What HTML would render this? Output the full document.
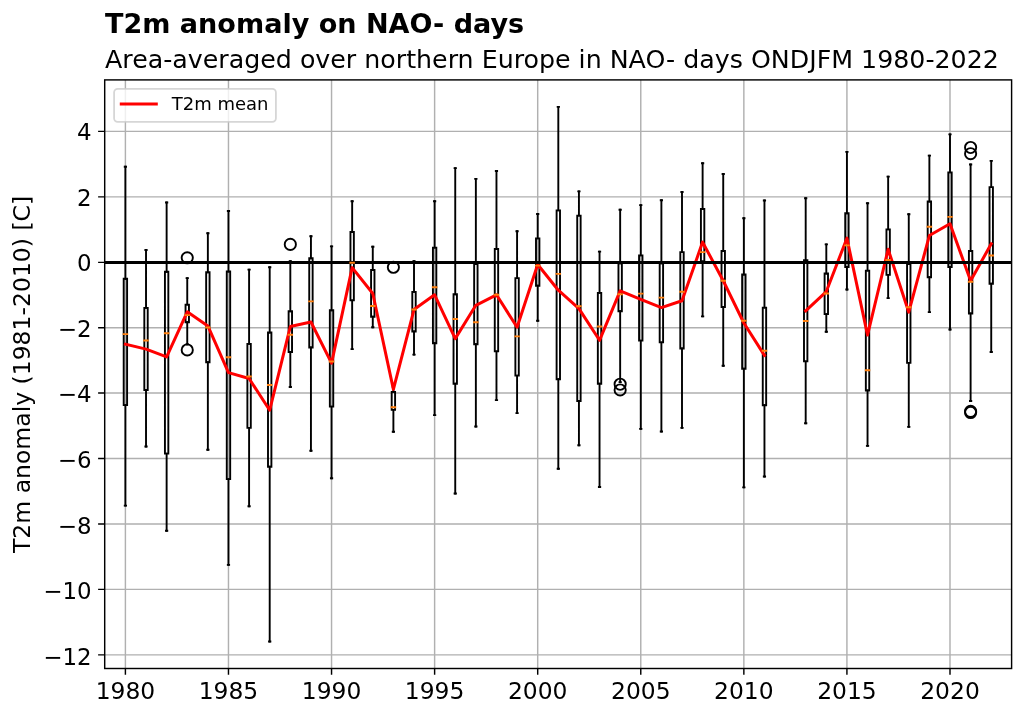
<!DOCTYPE html>
<html lang="en"><head><meta charset="utf-8"><title>T2m anomaly on NAO- days</title>
<style>html,body{margin:0;padding:0;background:#fff}body{width:1024px;height:716px;overflow:hidden}svg{display:block}</style>
</head><body>
<svg width="1024" height="716" viewBox="0 0 1024 716" font-family="'DejaVu Sans', 'Liberation Sans', sans-serif">
<rect width="1024" height="716" fill="#fff"/>
<path d="M125.4 79.9V668.5M228.47 79.9V668.5M331.55 79.9V668.5M434.62 79.9V668.5M537.7 79.9V668.5M640.77 79.9V668.5M743.85 79.9V668.5M846.92 79.9V668.5M950 79.9V668.5M104.7 654.88H1011.6M104.7 589.4H1011.6M104.7 523.92H1011.6M104.7 458.44H1011.6M104.7 392.96H1011.6M104.7 327.66H1011.6M104.7 262.35H1011.6M104.7 196.87H1011.6M104.7 131.39H1011.6" stroke="#b0b0b0" stroke-width="1.44" fill="none"/>
<g stroke="#000" stroke-width="1.9" fill="none">
<path d="M123.7 405.15h3.4V278.77h-3.4ZM144.32 389.96h3.4V307.91h-3.4ZM164.93 453.67h3.4V271.73h-3.4ZM185.55 322.31h3.4V304.63h-3.4ZM206.16 362.19h3.4V272.22h-3.4ZM226.78 479.16h3.4V271.57h-3.4ZM247.39 427.86h3.4V343.89h-3.4ZM268 466.74h3.4V332.45h-3.4ZM288.62 352.06h3.4V311.18h-3.4ZM309.24 347.48h3.4V258.31h-3.4ZM329.85 406.62h3.4V310.2h-3.4ZM350.46 300.38h3.4V231.95h-3.4ZM371.08 316.75h3.4V269.93h-3.4ZM391.69 409.89h3.4V391.92h-3.4ZM412.31 331.47h3.4V291.87h-3.4ZM432.93 343.24h3.4V247.67h-3.4ZM453.54 383.75h3.4V294.32h-3.4ZM474.16 344.22h3.4V264.04h-3.4ZM494.77 351.4h3.4V248.98h-3.4ZM515.38 375.58h3.4V278.12h-3.4ZM536 285.81h3.4V238.34h-3.4ZM556.61 379.18h3.4V210.34h-3.4ZM577.23 401.07h3.4V215.58h-3.4ZM597.84 383.75h3.4V292.85h-3.4ZM618.46 311.18h3.4V263.38h-3.4ZM639.07 340.62h3.4V255.36h-3.4ZM659.69 342.42h3.4V263.38h-3.4ZM680.3 348.46h3.4V252.09h-3.4ZM700.92 261.42h3.4V209.03h-3.4ZM721.53 306.93h3.4V250.94h-3.4ZM742.15 368.72h3.4V274.51h-3.4ZM762.76 405.32h3.4V307.58h-3.4ZM803.99 361.37h3.4V260.11h-3.4ZM824.61 314.13h3.4V273.53h-3.4ZM845.22 266.98h3.4V213.29h-3.4ZM865.84 390.45h3.4V270.58h-3.4ZM886.45 274.84h3.4V229.33h-3.4ZM907.07 362.84h3.4V264.04h-3.4ZM927.68 277.3h3.4V201.5h-3.4ZM948.3 266.98h3.4V172.36h-3.4ZM968.91 313.47h3.4V250.94h-3.4ZM989.53 283.68h3.4V187.1h-3.4Z" stroke-linejoin="miter"/>
<path d="M125.4 405.15V505.62M125.4 278.77V166.8M146.02 389.96V446.48M146.02 307.91V249.96M166.63 453.67V530.8M166.63 271.73V202.49M187.25 322.31V344.22M187.25 304.63V278.12M207.86 362.19V449.75M207.86 272.22V233.26M228.47 479.16V564.85M228.47 271.57V211M249.09 427.86V506.28M249.09 343.89V269.6M269.7 466.74V641.46M269.7 332.45V267.31M290.32 352.06V387.02M290.32 311.18V261.09M310.94 347.48V450.73M310.94 258.31V236.21M331.55 406.62V478.18M331.55 310.2V246.36M352.16 300.38V349.12M352.16 231.95V201.18M372.78 316.75V327.23M372.78 269.93V246.68M393.39 409.89V431.78M393.39 391.92V386.69M414.01 331.47V354.67M414.01 291.87V261.09M434.62 343.24V415.12M434.62 247.67V201.18M455.24 383.75V493.53M455.24 294.32V168.11M475.86 344.22V426.55M475.86 264.04V178.91M496.47 351.4V400.09M496.47 248.98V171.06M517.08 375.58V413.16M517.08 278.12V231.3M537.7 285.81V320.68M537.7 238.34V213.94M558.31 379.18V468.7M558.31 210.34V106.88M578.93 401.07V445.18M578.93 215.58V191.35M599.54 383.75V487M599.54 292.85V251.6M620.16 311.18V382.12M620.16 263.38V209.69M640.77 340.62V428.84M640.77 255.36V205.1M661.39 342.42V431.45M661.39 263.38V200.19M682 348.46V427.86M682 252.09V192.01M702.62 261.42V316.42M702.62 209.03V163.2M723.23 306.93V365.78M723.23 250.94V174M743.85 368.72V487.33M743.85 274.51V218.2M764.46 405.32V476.54M764.46 307.58V200.52M805.69 361.37V423.29M805.69 260.11V198.23M826.31 314.13V331.8M826.31 273.53V244.39M846.92 266.98V289.57M846.92 213.29V151.9M867.54 390.45V445.83M867.54 270.58V203.3M888.15 274.84V298.09M888.15 229.33V176.62M908.77 362.84V426.88M908.77 264.04V214.27M929.38 277.3V312.16M929.38 201.5V155.67M950 266.98V329.51M950 172.36V134.39M970.61 313.47V401.07M970.61 250.94V164.51M991.23 283.68V352.06M991.23 187.1V160.91" stroke-linecap="square"/>
<path d="M124.75 505.62h1.3M124.75 166.8h1.3M145.37 446.48h1.3M145.37 249.96h1.3M165.98 530.8h1.3M165.98 202.49h1.3M186.59 344.22h1.3M186.59 278.12h1.3M207.21 449.75h1.3M207.21 233.26h1.3M227.82 564.85h1.3M227.82 211h1.3M248.44 506.28h1.3M248.44 269.6h1.3M269.06 641.46h1.3M269.06 267.31h1.3M289.67 387.02h1.3M289.67 261.09h1.3M310.29 450.73h1.3M310.29 236.21h1.3M330.9 478.18h1.3M330.9 246.36h1.3M351.51 349.12h1.3M351.51 201.18h1.3M372.13 327.23h1.3M372.13 246.68h1.3M392.75 431.78h1.3M392.75 386.69h1.3M413.36 354.67h1.3M413.36 261.09h1.3M433.98 415.12h1.3M433.98 201.18h1.3M454.59 493.53h1.3M454.59 168.11h1.3M475.21 426.55h1.3M475.21 178.91h1.3M495.82 400.09h1.3M495.82 171.06h1.3M516.43 413.16h1.3M516.43 231.3h1.3M537.05 320.68h1.3M537.05 213.94h1.3M557.66 468.7h1.3M557.66 106.88h1.3M578.28 445.18h1.3M578.28 191.35h1.3M598.89 487h1.3M598.89 251.6h1.3M619.51 382.12h1.3M619.51 209.69h1.3M640.12 428.84h1.3M640.12 205.1h1.3M660.74 431.45h1.3M660.74 200.19h1.3M681.35 427.86h1.3M681.35 192.01h1.3M701.97 316.42h1.3M701.97 163.2h1.3M722.58 365.78h1.3M722.58 174h1.3M743.2 487.33h1.3M743.2 218.2h1.3M763.81 476.54h1.3M763.81 200.52h1.3M805.04 423.29h1.3M805.04 198.23h1.3M825.66 331.8h1.3M825.66 244.39h1.3M846.27 289.57h1.3M846.27 151.9h1.3M866.89 445.83h1.3M866.89 203.3h1.3M887.5 298.09h1.3M887.5 176.62h1.3M908.12 426.88h1.3M908.12 214.27h1.3M928.73 312.16h1.3M928.73 155.67h1.3M949.35 329.51h1.3M949.35 134.39h1.3M969.96 401.07h1.3M969.96 164.51h1.3M990.58 352.06h1.3M990.58 160.91h1.3" stroke-linecap="square"/>
<circle cx="187.25" cy="257.82" r="5.6"/><circle cx="187.25" cy="349.93" r="5.6"/><circle cx="290.32" cy="244.39" r="5.6"/><circle cx="393.39" cy="267.31" r="5.6"/><circle cx="620.16" cy="384.24" r="5.6"/><circle cx="620.16" cy="389.96" r="5.6"/><circle cx="970.61" cy="147.48" r="5.6"/><circle cx="970.61" cy="153.7" r="5.6"/><circle cx="970.61" cy="411.36" r="5.6"/><circle cx="970.61" cy="412.5" r="5.6"/>
</g>
<path d="M125.4 344.22L146.02 349.12L166.63 356.96L187.25 311.84L207.86 325.92L228.47 372.64L249.09 378.52L269.7 410.22L290.32 326.57L310.94 321.99L331.55 363.17L352.16 267.64L372.78 293.5L393.39 389.31L414.01 309.55L434.62 294.81L455.24 338.66L475.86 305.29L496.47 294.81L517.08 327.23L537.7 264.53L558.31 290.23L578.93 308.56L599.54 340.3L620.16 290.88L640.77 299.4L661.39 307.58L682 300.71L702.62 242.1L723.23 280.73L743.85 322.97L764.46 355.33M805.69 310.86L826.31 291.54L846.92 238.17L867.54 335.07L888.15 249.3L908.77 312.16L929.38 235.55L950 223.77L970.61 280.73L991.23 243.9" stroke="#ff0000" stroke-width="3.0" fill="none" stroke-linejoin="round" stroke-linecap="square"/>
<path d="M104.7 262.45H1011.6" stroke="#000" stroke-width="3.0" fill="none"/>
<path d="M123.6 334.09h3.6M144.22 340.46h3.6M164.83 333.27h3.6M185.45 315.11h3.6M206.06 327.55h3.6M226.68 357.29h3.6M247.29 376.56h3.6M267.9 385.06h3.6M288.52 334.74h3.6M309.13 301.36h3.6M329.75 361.53h3.6M350.36 262.73h3.6M370.98 305.94h3.6M391.59 407.28h3.6M412.21 309.55h3.6M432.82 287.28h3.6M453.44 319.04h3.6M474.06 322.31h3.6M494.67 294.81h3.6M515.28 336.38h3.6M535.9 265.67h3.6M556.51 273.86h3.6M577.13 306.27h3.6M597.74 326.57h3.6M618.36 294.32h3.6M638.97 293.67h3.6M659.59 297.6h3.6M680.2 291.7h3.6M700.82 252.09h3.6M721.43 280.73h3.6M742.05 320.68h3.6M762.66 350.75h3.6M803.89 321h3.6M824.51 293.5h3.6M845.12 245.38h3.6M865.74 370.19h3.6M886.35 259.94h3.6M906.97 307.25h3.6M927.58 226.71h3.6M948.2 216.89h3.6M968.81 281.72h3.6M989.43 255.52h3.6" stroke="#ff7f0e" stroke-width="1.9" fill="none" stroke-linecap="square"/>
<rect x="104.7" y="79.9" width="906.9" height="588.6" fill="none" stroke="#000" stroke-width="1.44"/>
<path d="M125.4 668.5v6.2M228.47 668.5v6.2M331.55 668.5v6.2M434.62 668.5v6.2M537.7 668.5v6.2M640.77 668.5v6.2M743.85 668.5v6.2M846.92 668.5v6.2M950 668.5v6.2M104.7 654.88h-6.6M104.7 589.4h-6.6M104.7 523.92h-6.6M104.7 458.44h-6.6M104.7 392.96h-6.6M104.7 327.66h-6.6M104.7 262.35h-6.6M104.7 196.87h-6.6M104.7 131.39h-6.6" stroke="#000" stroke-width="1.44" fill="none"/>
<g font-size="23.4" fill="#000">
<text x="125.4" y="699.2" text-anchor="middle">1980</text>
<text x="228.47" y="699.2" text-anchor="middle">1985</text>
<text x="331.55" y="699.2" text-anchor="middle">1990</text>
<text x="434.62" y="699.2" text-anchor="middle">1995</text>
<text x="537.7" y="699.2" text-anchor="middle">2000</text>
<text x="640.77" y="699.2" text-anchor="middle">2005</text>
<text x="743.85" y="699.2" text-anchor="middle">2010</text>
<text x="846.92" y="699.2" text-anchor="middle">2015</text>
<text x="950" y="699.2" text-anchor="middle">2020</text>
<text x="91.6" y="664.68" text-anchor="end" font-size="22.9">−12</text>
<text x="91.6" y="599.2" text-anchor="end" font-size="22.9">−10</text>
<text x="91.6" y="533.72" text-anchor="end" font-size="22.9">−8</text>
<text x="91.6" y="468.09" text-anchor="end" font-size="22.9">−6</text>
<text x="91.6" y="402.46" text-anchor="end" font-size="22.9">−4</text>
<text x="91.6" y="336.83" text-anchor="end" font-size="22.9">−2</text>
<text x="91.6" y="271.2" text-anchor="end" font-size="22.9">0</text>
<text x="91.6" y="205.57" text-anchor="end" font-size="22.9">2</text>
<text x="91.6" y="139.94" text-anchor="end" font-size="22.9">4</text>
</g>
<text transform="translate(30 374.4) rotate(-90)" font-size="23.5" text-anchor="middle" fill="#000">T2m anomaly (1981-2010) [C]</text>
<text x="105" y="33" font-size="27.05" font-weight="bold" fill="#000">T2m anomaly on NAO- days</text>
<text x="105" y="67.5" font-size="25.29" fill="#000">Area-averaged over northern Europe in NAO- days ONDJFM 1980-2022</text>
<rect x="114.1" y="88.8" width="161.8" height="33" rx="3.6" ry="3.6" fill="#fff" fill-opacity="0.8" stroke="#ccc" stroke-opacity="0.8" stroke-width="1.8"/>
<path d="M121.3 104.1h35" stroke="#ff0000" stroke-width="3.0" stroke-linecap="square" fill="none"/>
<text x="171.7" y="110" font-size="18" fill="#000">T2m mean</text>
</svg>
</body></html>
